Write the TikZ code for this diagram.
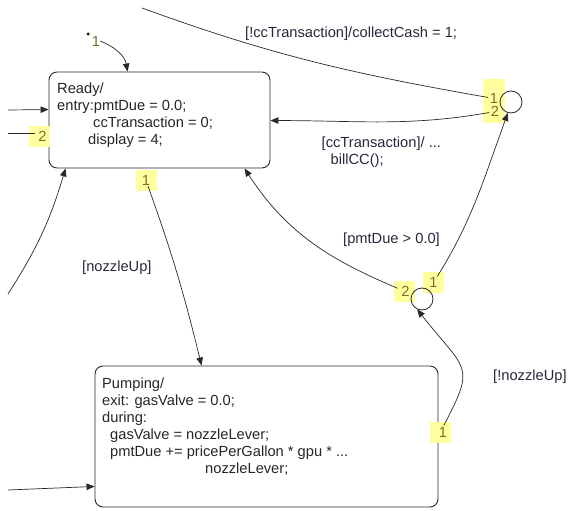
\documentclass[tikz,border=0pt]{standalone}
\usepackage{fontspec}
\setmainfont{Liberation Sans}
\usetikzlibrary{arrows.meta,calc}

\definecolor{linegray}{RGB}{40,40,40}
\definecolor{labelgray}{RGB}{40,40,58}
\definecolor{ordyellow}{RGB}{255,255,160}
\definecolor{ordolive}{RGB}{125,110,40}

\tikzset{
  state/.style={draw=linegray, line width=0.9pt, rounded corners=8pt, inner sep=0pt},
  statetext/.style={anchor=north west, inner sep=0pt, align=left, text=black!85},
  junction/.style={circle, draw=linegray, line width=0.8pt, minimum size=22pt, inner sep=0pt},
  trans/.style={linegray, line width=0.7pt, -{Triangle[length=8pt,width=6.5pt]}},
  plain/.style={linegray, line width=0.7pt},
  ord/.style={fill=ordyellow, text=ordolive, minimum width=21pt, minimum height=21pt, inner sep=0pt},
  ordnum/.style={text=ordolive, inner sep=0pt},
  lbl/.style={text=labelgray, inner sep=0pt, align=left}
}

\begin{document}
\begin{tikzpicture}[x=1pt, y=-1pt, font=\fontsize{14.67}{17}\selectfont]
    \useasboundingbox (0,0) rectangle (568,511);

    % draw states
    \node[state, minimum width=221pt, minimum height=96pt] (ready) at (159.5,120) {};
    \node[statetext] (readytext) at (57,83) {Ready/\\
      entry:pmtDue = 0.0;\\
      \hspace*{36pt}ccTransaction = 0;\\
      \hspace*{31pt}display = 4;};
    \node[state, minimum width=343pt, minimum height=141pt] (pumping) at (266.5,436.5) {};
    \node[statetext] (pumpingtext) at (102,377.5) {Pumping/\\
      exit: gasValve = 0.0;\\
      during:\\
      \hspace*{8pt}gasValve = nozzleLever;\\
      \hspace*{8pt}pmtDue += pricePerGallon * gpu * ...\\
      \hspace*{103pt}nozzleLever;};

    % draw execution order labels
    \node[ordnum] (initord) at (96,41) {1};
    \node[ord] (leftord) at (39.5,136.5) {\hspace*{6pt}2};
    \node[ord] (readyord) at (146,180.5) {1};
    \node[ord] (j2ordb) at (404,291) {\hspace*{3pt}2};
    \node[ord] (j2orda) at (433.5,282.5) {1};
    \node[ord] (pumpord) at (440,432.5) {\hspace*{6pt}1};
    \node[ord, minimum width=22pt, minimum height=44pt] (j1ord) at (494,101) {};
    \node[ordnum] (j1orda) at (494,98.5) {1};
    \node[ordnum] (j1ordb) at (495,111.5) {2};

    % draw junctions
    \node[junction] (j1) at (511,102) {};
    \node[junction] (j2) at (422,299) {};
    \node[circle, fill=linegray, minimum size=3.5pt, inner sep=0pt] (init) at (88,34) {};

    % free ends outside the chart
    \coordinate (topout) at (142,8);
    \coordinate (leftin) at (8,110);
    \coordinate (leftout) at (8,133);
    \coordinate (lowin) at (8,294);
    \coordinate (pumpin) at (8,490);

    % draw transitions
    \draw[trans] (initord.east) to[out=-22, in=100] ($(ready.north west)+(79,0)$);
    \draw[trans] (leftin) -- ($(ready.north west)+(0,38)$);
    \draw[plain, shorten >=4.5pt] (leftout) -- (leftout -| leftord.center);
    \draw[trans] (lowin) to[bend right=8] ($(ready.south west)+(17,0)$);
    \draw[trans, shorten <=6pt] (readyord.center) to[bend left=3] ($(pumping.north west)+(107,0)$);
    \draw[trans, shorten <=7pt] (j2ordb.center) to[out=157, in=-57] ($(ready.south west)+(196,0)$);
    \draw[trans, shorten <=7pt] (j2orda.center) to[out=58, in=-110] (j1.-106);
    \draw[trans, shorten <=8pt] (pumpord.center) to[out=62, in=-52, looseness=1.6] (j2.-115);
    \draw[plain, shorten <=6pt] (j1orda.center) to[out=170, in=-20] (topout);
    \draw[trans, shorten <=6pt] (j1ordb.center) to[out=190, in=0] ($(ready.north east)+(0,49)$);
    \draw[trans] (pumpin) -- ($(pumping.south west)+(0,-21)$);

    % draw transition labels
    \node[lbl, anchor=west] (lbcash) at (245,34) {[!ccTransaction]/collectCash = 1;};
    \node[lbl, anchor=north west] (lbcc) at (321.5,136.5) {[ccTransaction]/ ...\\\hspace*{9pt}billCC();};
    \node[lbl, anchor=west] (lbpmt) at (343,240) {[pmtDue > 0.0]};
    \node[lbl, anchor=west] (lbnoz) at (82,268) {[nozzleUp]};
    \node[lbl, anchor=west] (lbnotnoz) at (493,377) {[!nozzleUp]};
\end{tikzpicture}
\end{document}
